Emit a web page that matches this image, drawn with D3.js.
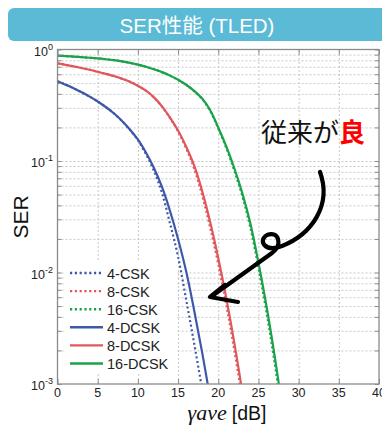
<!DOCTYPE html>
<html>
<head>
    <meta charset="utf-8">
    <title>SER性能 (TLED)</title>
    <script src="https://d3js.org/d3.v7.min.js"></script>
    <style>
        body { margin: 0; padding: 0; background: #fff; }
        svg { display: block; }
        .grid line { stroke: #c8c8c8; stroke-dasharray: 2,2; }
        .grid .domain { display: none; }
        .ticks line { stroke: #8a8a8a; }
        .ticks .domain { display: none; }
    </style>
</head>
<body>
<svg id="svg" width="382" height="428"></svg>
<script>
    // SNR points in dB
    const snr = [0, 1, 2, 3, 4, 5, 6, 7, 8, 9, 10, 11, 12, 13, 14, 15, 16, 17, 18, 19, 20, 21, 22, 23, 24, 25, 26, 27, 28];

    // SER values (null = below the plot, not drawn)
    const ser4csk   = [0.52, 0.484, 0.449, 0.413, 0.378, 0.342, 0.305, 0.268, 0.229, 0.191, 0.1535, 0.1156, 0.0815, 0.0517, 0.0275, 0.0139, 0.00575, 0.00232, 0.000895, null, null, null, null, null, null, null, null, null, null];
    const ser8csk   = [0.752, 0.729, 0.706, 0.682, 0.658, 0.631, 0.605, 0.578, 0.548, 0.515, 0.473, 0.427, 0.371, 0.307, 0.2427, 0.184, 0.1297, 0.0855, 0.049, 0.0252, 0.0119, 0.00513, 0.00201, 0.00072, null, null, null, null, null];
    const ser16csk  = [0.881, 0.873, 0.863, 0.853, 0.843, 0.832, 0.818, 0.802, 0.782, 0.759, 0.731, 0.700, 0.665, 0.626, 0.582, 0.534, 0.481, 0.423, 0.359, 0.281, 0.1956, 0.1306, 0.0818, 0.0482, 0.0251, 0.01104, 0.0044, 0.00157, 0.0005];
    const ser4dcsk  = [0.52, 0.484, 0.449, 0.413, 0.378, 0.342, 0.305, 0.268, 0.23, 0.192, 0.156, 0.119, 0.0865, 0.0585, 0.0356, 0.020, 0.0103, 0.00459, 0.00191, 0.00074, null, null, null, null, null, null, null, null, null];
    const ser8dcsk  = [0.752, 0.729, 0.706, 0.682, 0.658, 0.631, 0.605, 0.578, 0.548, 0.515, 0.473, 0.427, 0.372, 0.309, 0.245, 0.188, 0.135, 0.0912, 0.0537, 0.0282, 0.0135, 0.00589, 0.00234, 0.00085, null, null, null, null, null];
    const ser16dcsk = [0.881, 0.873, 0.863, 0.853, 0.843, 0.832, 0.818, 0.802, 0.782, 0.759, 0.731, 0.700, 0.665, 0.627, 0.583, 0.536, 0.483, 0.426, 0.363, 0.285, 0.200, 0.135, 0.0861, 0.0513, 0.0275, 0.0123, 0.00501, 0.00182, 0.00059];

    const seriesNames = ["4-CSK", "8-CSK", "16-CSK", "4-DCSK", "8-DCSK", "16-DCSK"];
    const seriesValues = [ser4csk, ser8csk, ser16csk, ser4dcsk, ser8dcsk, ser16dcsk];

    const xTicks = [0, 5, 10, 15, 20, 25, 30, 35, 40];
    const yDecades = [1e-3, 1e-2, 1e-1, 1];
    const yExponents = ["-3", "-2", "-1", "0"];

    // styles
    const colors = ["#3d58a8", "#e0585c", "#1ba24c", "#3d58a8", "#e0585c", "#1ba24c"];
    const dotted = [true, true, true, false, false, false];

    const svg = d3.select("#svg");
    const pL = 57.5, pR = 379, pT = 49.5, pB = 384;

    const x = d3.scaleLinear().domain([0, 40]).range([pL, pR]);
    const y = d3.scaleLog().domain([1e-3, 1]).range([pB, pT]);

    // Title banner
    svg.append("rect")
        .attr("x", 8).attr("y", 8).attr("width", 384).attr("height", 33)
        .attr("rx", 6).attr("fill", "#5bbad5");
    svg.append("text")
        .attr("x", 197).attr("y", 33)
        .attr("text-anchor", "middle")
        .attr("fill", "#fff")
        .attr("font-family", "'Liberation Sans', 'Noto Sans CJK JP', sans-serif")
        .attr("font-size", 20.5)
        .text("SER性能 (TLED)");

    // minor y values
    const yMinor = [];
    for (let e = -3; e < 0; e++) {
        for (let k = 1; k <= 9; k++) yMinor.push(k * Math.pow(10, e));
    }
    yMinor.push(1);

    // Grid
    svg.append("g").attr("class", "grid")
        .attr("transform", `translate(${pL},0)`)
        .call(d3.axisLeft(y).tickValues(yMinor.slice(1, -1)).tickSize(-(pR - pL)).tickFormat(""));
    svg.append("g").attr("class", "grid")
        .attr("transform", `translate(0,${pB})`)
        .call(d3.axisBottom(x).tickValues(xTicks.slice(1, -1)).tickSize(-(pB - pT)).tickFormat(""));

    // Curves
    svg.append("clipPath").attr("id", "clip")
        .append("rect").attr("x", pL).attr("y", pT).attr("width", pR - pL).attr("height", pB - pT);

    const line = d3.line()
        .defined(d => d[1] != null)
        .x(d => x(d[0]))
        .y(d => y(d[1]))
        .curve(d3.curveCatmullRom);

    const plot = svg.append("g").attr("clip-path", "url(#clip)");
    // solid first, dotted on top
    [3, 4, 5, 0, 1, 2].forEach(i => {
        plot.append("path")
            .attr("d", line(snr.map((s, j) => [s, seriesValues[i][j]])))
            .attr("fill", "none")
            .attr("stroke", colors[i])
            .attr("stroke-width", 2.2)
            .attr("stroke-dasharray", dotted[i] ? "2,2.6" : null);
    });

    // Ticks (inward)
    svg.append("g").attr("class", "ticks")
        .attr("transform", `translate(${pL},0)`)
        .call(d3.axisLeft(y).tickValues(yMinor).tickSize(-4).tickFormat(""));
    svg.append("g").attr("class", "ticks")
        .attr("transform", `translate(${pR},0)`)
        .call(d3.axisRight(y).tickValues(yMinor).tickSize(-4).tickFormat(""));
    svg.append("g").attr("class", "ticks")
        .attr("transform", `translate(0,${pB})`)
        .call(d3.axisBottom(x).tickValues(xTicks).tickSize(-5).tickFormat(""));
    svg.append("g").attr("class", "ticks")
        .attr("transform", `translate(0,${pT})`)
        .call(d3.axisTop(x).tickValues(xTicks).tickSize(-5).tickFormat(""));

    // Frame
    svg.append("rect")
        .attr("x", pL).attr("y", pT)
        .attr("width", pR - pL).attr("height", pB - pT)
        .attr("fill", "none").attr("stroke", "#8a8a8a").attr("stroke-width", 1.3);

    // X tick labels
    svg.append("g").selectAll("text").data(xTicks).join("text")
        .attr("x", d => x(d)).attr("y", 397)
        .attr("text-anchor", "middle")
        .attr("font-family", "'Liberation Sans', Arial, sans-serif")
        .attr("font-size", 12.5)
        .attr("fill", "#222")
        .text(d => d);

    // Y tick labels 10^n
    const yl = svg.append("g").selectAll("text").data(yDecades).join("text")
        .attr("x", 53).attr("y", d => y(d) + 6)
        .attr("text-anchor", "end")
        .attr("font-family", "'Liberation Sans', Arial, sans-serif")
        .attr("font-size", 12.5)
        .attr("fill", "#222");
    yl.append("tspan").text("10");
    yl.append("tspan").attr("dy", -6).attr("font-size", 9).text((d, i) => yExponents[i]);

    // Axis titles
    svg.append("text")
        .attr("transform", "translate(28,217) rotate(-90)")
        .attr("text-anchor", "middle")
        .attr("font-family", "'Liberation Sans', Arial, sans-serif")
        .attr("font-size", 21)
        .attr("fill", "#111")
        .text("SER");

    const xt = svg.append("text")
        .attr("x", 227).attr("y", 420)
        .attr("text-anchor", "middle")
        .attr("fill", "#111");
    xt.append("tspan")
        .attr("font-family", "'Liberation Serif', 'DejaVu Serif', serif")
        .attr("font-style", "italic")
        .attr("font-size", 22)
        .text("γave");
    xt.append("tspan")
        .attr("font-family", "'Liberation Sans', Arial, sans-serif")
        .attr("font-size", 19.5)
        .attr("dx", 5)
        .text("[dB]");

    // Legend
    const lg = svg.append("g");
    lg.append("rect")
        .attr("x", 64).attr("y", 261).attr("width", 112).attr("height", 111)
        .attr("fill", "#fff");
    const rows = lg.selectAll("g").data(seriesNames).join("g")
        .attr("transform", (d, i) => `translate(0,${273 + i * 18.1})`);
    rows.append("line")
        .attr("x1", 70).attr("x2", 103).attr("y1", 0).attr("y2", 0)
        .attr("stroke", (d, i) => colors[i])
        .attr("stroke-width", 2.4)
        .attr("stroke-dasharray", (d, i) => dotted[i] ? "2.2,2.6" : null);
    rows.append("text")
        .attr("x", 107).attr("y", 5.5)
        .attr("font-family", "'Liberation Sans', Arial, sans-serif")
        .attr("font-size", 14.5)
        .attr("fill", "#222")
        .text(d => d);

    // Annotation
    const ann = svg.append("text")
        .attr("x", 261).attr("y", 142)
        .attr("font-family", "'Noto Sans CJK JP', sans-serif")
        .attr("font-size", 26)
        .attr("fill", "#111");
    ann.append("tspan").text("従来が");
    ann.append("tspan").attr("fill", "#ff0000").attr("font-weight", "bold").text("良");

    svg.append("path")
        .attr("d", "M 320 172 C 332 205, 312 234, 282 246 C 264 253, 258 240, 267 235 C 279 230, 283 246, 272 253 L 212 296")
        .attr("fill", "none").attr("stroke", "#000").attr("stroke-width", 4.2)
        .attr("stroke-linecap", "round").attr("stroke-linejoin", "round");
    svg.append("path")
        .attr("d", "M 225 285 L 210 297 L 238 302")
        .attr("fill", "none").attr("stroke", "#000").attr("stroke-width", 4.2)
        .attr("stroke-linecap", "round").attr("stroke-linejoin", "round");
</script>
</body>
</html>
